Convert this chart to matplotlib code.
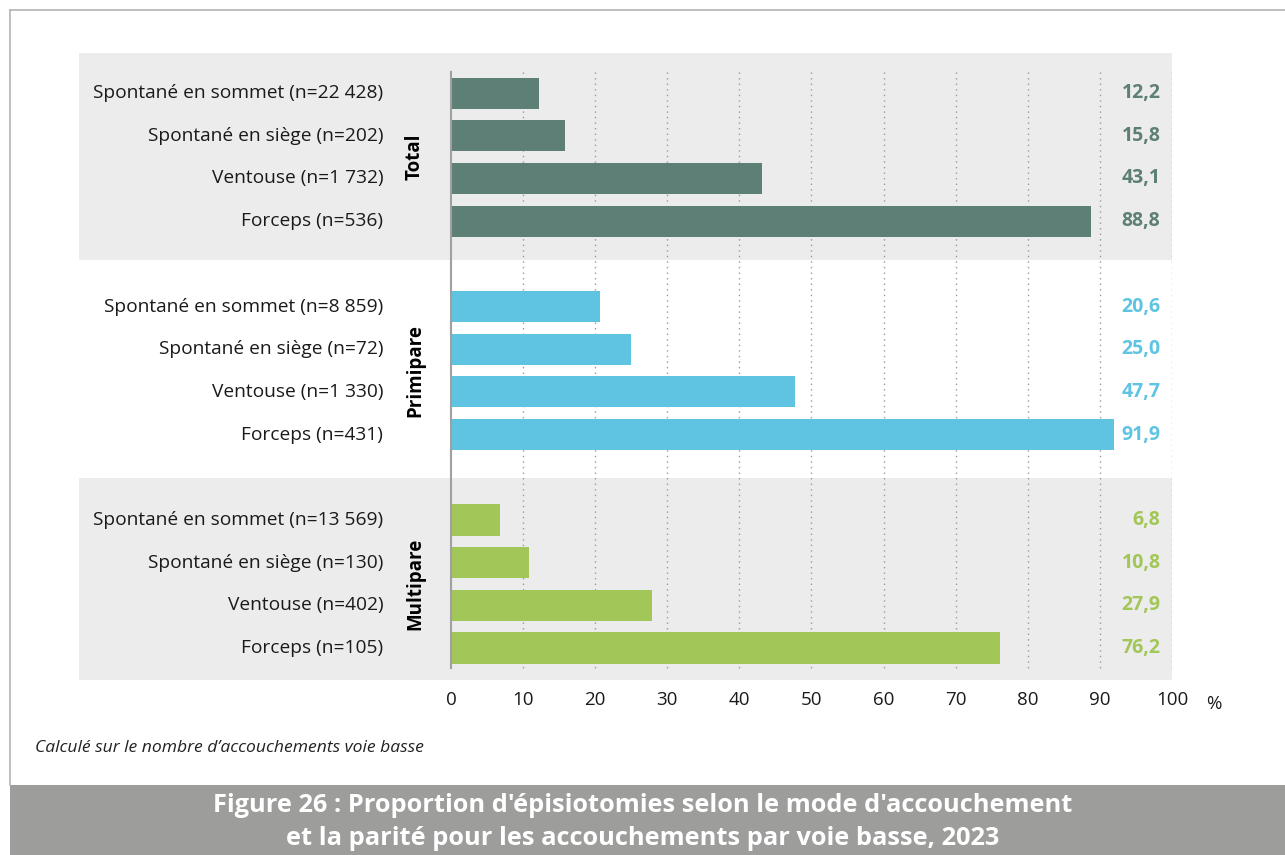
import matplotlib.pyplot as plt
from matplotlib.patches import Rectangle
from matplotlib.lines import Line2D

plt.rcParams['font.family'] = ['Open Sans', 'DejaVu Sans']

groups = ['Total', 'Primipare', 'Multipare']
labels = [
    ['Spontané en sommet (n=22 428)', 'Spontané en siège (n=202)',
     'Ventouse (n=1 732)', 'Forceps (n=536)'],
    ['Spontané en sommet (n=8 859)', 'Spontané en siège (n=72)',
     'Ventouse (n=1 330)', 'Forceps (n=431)'],
    ['Spontané en sommet (n=13 569)', 'Spontané en siège (n=130)',
     'Ventouse (n=402)', 'Forceps (n=105)'],
]
values = [
    [12.2, 15.8, 43.1, 88.8],
    [20.6, 25.0, 47.7, 91.9],
    [6.8, 10.8, 27.9, 76.2],
]
colors = ['#5e7f76', '#5ec4e2', '#a2c657']
ticks = [0, 10, 20, 30, 40, 50, 60, 70, 80, 90, 100]

fig = plt.figure(figsize=(12.85, 8.55), dpi=100)

# outer frame
fig.add_artist(Line2D([10/1285, 10/1285], [1 - 785/855, 1 - 10/855],
                      color='#b4b4b4', lw=1.2))
fig.add_artist(Line2D([10/1285, 1], [1 - 10/855, 1 - 10/855],
                      color='#b4b4b4', lw=1.2))

# title band
fig.add_artist(Rectangle((10/1285, 0), 1 - 10/1285, 70/855,
                         transform=fig.transFigure, color='#9d9d9c', lw=0))
fig.text(0.5, 1 - 805/855, "Figure 26 : Proportion d'épisiotomies selon le mode d'accouchement",
         ha='center', va='center', color='white', fontsize=18.3, fontweight='bold')
fig.text(0.5, 1 - 838/855, "et la parité pour les accouchements par voie basse, 2023",
         ha='center', va='center', color='white', fontsize=18.3, fontweight='bold')

fig.text(35/1285, 1 - 748/855, 'Calculé sur le nombre d\u2019accouchements voie basse',
         ha='left', va='center', fontsize=12.6, style='italic', color='#222222')

ax = fig.add_axes([79/1285, 1 - 680/855, (1172 - 79)/1285, 627/855])
x0 = -(451 - 79) / 7.21
ax.set_xlim(x0, 100)
ax.set_ylim(13.75, -0.94)
for s in ax.spines.values():
    s.set_visible(False)

# shaded bands behind Total and Multipare
ax.axhspan(-0.94, 3.91, color='#ececec', lw=0, zorder=0)
ax.axhspan(9.02, 13.75, color='#ececec', lw=0, zorder=0)

for t in ticks[1:]:
    ax.plot([t, t], [-0.49, 13.47], color='#9a9a9a', lw=1, ls=(0, (1, 3)), zorder=1)
ax.plot([0, 0], [-0.49, 13.47], color='#a0a0a0', lw=1.5, zorder=3)

for g, (name, labs, vals, col) in enumerate(zip(groups, labels, values, colors)):
    rows = [g * 5 + i for i in range(4)]
    ax.barh(rows, vals, height=0.73, color=col, zorder=2)
    for r, lab, v in zip(rows, labs, vals):
        ax.text(-9.4, r, lab, ha='right', va='center', fontsize=13.8, color='#1a1a1a')
        ax.text(98.4, r, f'{v:.1f}'.replace('.', ','), ha='right', va='center',
                fontsize=14, fontweight='bold', color=col)
    ax.text(-5, g * 5 + 1.5, name, rotation=90, ha='center', va='center',
            fontsize=13.5, fontweight='bold', color='black')

ax.set_xticks(ticks)
ax.set_xticklabels([str(t) for t in ticks], fontsize=13.5, color='#1a1a1a')
ax.tick_params(axis='x', length=0, pad=8)
ax.set_yticks([])
ax.text(105.8, 14.1, '%', ha='center', va='top', fontsize=13.5, color='#1a1a1a')

fig.savefig('out.png', dpi=100)
